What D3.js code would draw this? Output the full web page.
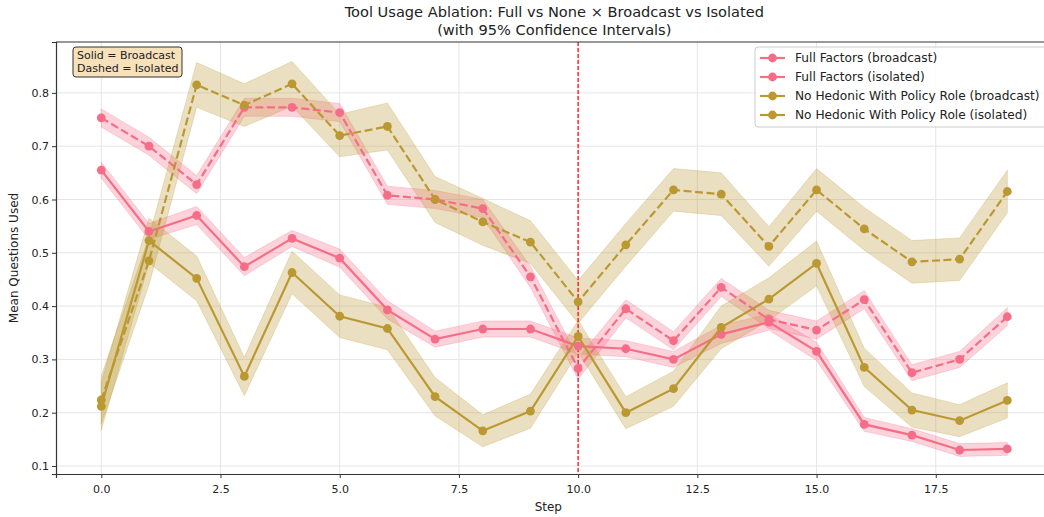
<!DOCTYPE html>
<html>
<head>
<meta charset="utf-8">
<script src="https://cdn.jsdelivr.net/npm/d3@7"></script>
<style>
  body { margin: 0; background: #fff; }
  text { font-family: "DejaVu Sans", sans-serif; fill: #222; }
</style>
</head>
<body>
<svg id="chart" width="1044" height="517"></svg>
<script>
// Data
const steps = d3.range(0, 20);

const fullBroadcast = [0.655, 0.54, 0.57, 0.474, 0.527, 0.49, 0.393, 0.338, 0.357, 0.357,
    0.325, 0.32, 0.30, 0.347, 0.37, 0.315, 0.178, 0.158, 0.13, 0.132];
const fullBroadcastCI = [0.015, 0.015, 0.017, 0.017, 0.015, 0.017, 0.017, 0.015, 0.015, 0.015,
    0.015, 0.015, 0.015, 0.017, 0.015, 0.017, 0.013, 0.012, 0.012, 0.012];

const fullIsolated = [0.753, 0.70, 0.628, 0.773, 0.773, 0.763, 0.608, 0.60, 0.583, 0.455,
    0.283, 0.395, 0.335, 0.435, 0.375, 0.355, 0.412, 0.275, 0.30, 0.38];
const fullIsolatedCI = [0.017, 0.017, 0.017, 0.017, 0.017, 0.017, 0.017, 0.017, 0.017, 0.02,
    0.02, 0.017, 0.017, 0.017, 0.017, 0.017, 0.017, 0.015, 0.015, 0.017];

const noHedBroadcast = [0.212, 0.523, 0.452, 0.268, 0.463, 0.381, 0.358, 0.23, 0.166, 0.203,
    0.343, 0.20, 0.245, 0.36, 0.413, 0.48, 0.285, 0.205, 0.185, 0.223];
const noHedBroadcastCI = [0.045, 0.042, 0.042, 0.036, 0.04, 0.04, 0.04, 0.036, 0.03, 0.032,
    0.03, 0.03, 0.033, 0.04, 0.04, 0.042, 0.036, 0.032, 0.03, 0.033];

const noHedIsolated = [0.224, 0.485, 0.815, 0.777, 0.817, 0.72, 0.737, 0.60, 0.558, 0.52,
    0.408, 0.515, 0.618, 0.61, 0.512, 0.618, 0.545, 0.483, 0.488, 0.615];
const noHedIsolatedCI = [0.045, 0.045, 0.042, 0.04, 0.042, 0.04, 0.044, 0.043, 0.044, 0.04,
    0.04, 0.04, 0.04, 0.04, 0.037, 0.04, 0.04, 0.04, 0.04, 0.04];

const xTicks = [0, 2.5, 5, 7.5, 10, 12.5, 15, 17.5];
const yTicks = [0.1, 0.2, 0.3, 0.4, 0.5, 0.6, 0.7, 0.8];

const pink = "#f56d87";
const gold = "#bb9832";

const series = [
    { name: "Full Factors (broadcast)", values: fullBroadcast, ci: fullBroadcastCI, color: pink, dashed: false },
    { name: "Full Factors (isolated)", values: fullIsolated, ci: fullIsolatedCI, color: pink, dashed: true },
    { name: "No Hedonic With Policy Role (broadcast)", values: noHedBroadcast, ci: noHedBroadcastCI, color: gold, dashed: false },
    { name: "No Hedonic With Policy Role (isolated)", values: noHedIsolated, ci: noHedIsolatedCI, color: gold, dashed: true }
];

// Layout
const plotLeft = 56, plotRight = 1052.6, plotTop = 42, plotBottom = 474;

let svg = d3.select("#chart");

let x = d3.scaleLinear().domain([-0.95, 19.95]).range([plotLeft, plotRight]);
let y = d3.scaleLinear().domain([0.085, 0.8955]).range([plotBottom, plotTop]);

// Grid
let grid = svg.append("g");
grid.selectAll("line.gx")
    .data(xTicks)
    .enter()
    .append("line")
    .attr("x1", d => x(d)).attr("x2", d => x(d))
    .attr("y1", plotTop).attr("y2", plotBottom)
    .style("stroke", "#e6e6e6")
    .style("stroke-width", 1);
grid.selectAll("line.gy")
    .data(yTicks)
    .enter()
    .append("line")
    .attr("x1", plotLeft).attr("x2", plotRight)
    .attr("y1", d => y(d)).attr("y2", d => y(d))
    .style("stroke", "#e6e6e6")
    .style("stroke-width", 1);

// Confidence bands
let area = d3.area()
    .x((d, i) => x(steps[i]))
    .y0(d => y(d[0] - d[1]))
    .y1(d => y(d[0] + d[1]));

series.forEach(s => {
    svg.append("path")
        .datum(s.values.map((v, i) => [v, s.ci[i]]))
        .attr("d", area)
        .attr("fill", s.color)
        .attr("fill-opacity", 0.3)
        .attr("stroke", s.color)
        .attr("stroke-opacity", 0.25)
        .attr("stroke-width", 1);
});

// Vertical marker at step 10
svg.append("line")
    .attr("x1", x(10)).attr("x2", x(10))
    .attr("y1", plotTop).attr("y2", plotBottom)
    .style("stroke", "red")
    .style("stroke-width", 1.5)
    .style("stroke-dasharray", "4,2")
    .style("opacity", 0.8);

// Lines and markers
let line = d3.line()
    .x((d, i) => x(steps[i]))
    .y(d => y(d));

series.forEach(s => {
    svg.append("path")
        .datum(s.values)
        .attr("d", line)
        .attr("fill", "none")
        .attr("stroke", s.color)
        .attr("stroke-width", 2.2)
        .attr("stroke-dasharray", s.dashed ? "8,3.5" : null);

    svg.append("g")
        .selectAll("circle")
        .data(s.values)
        .enter()
        .append("circle")
        .attr("cx", (d, i) => x(steps[i]))
        .attr("cy", d => y(d))
        .attr("r", 4.4)
        .attr("fill", s.color);
});

// Axes
let xAxis = svg.append("g")
    .attr("transform", `translate(0,${plotBottom})`)
    .call(d3.axisBottom(x).tickValues(xTicks).tickFormat(d3.format(".1f")).tickSizeOuter(0).tickSize(4));
let yAxis = svg.append("g")
    .attr("transform", `translate(${plotLeft},0)`)
    .call(d3.axisLeft(y).tickValues(yTicks).tickFormat(d3.format(".1f")).tickSizeOuter(0).tickSize(4));

[xAxis, yAxis].forEach(a => {
    a.select(".domain").attr("stroke", "#333").attr("stroke-width", 1.2);
    a.selectAll(".tick line").attr("stroke", "#333");
    a.selectAll(".tick text").style("font-size", "11px").attr("fill", "#222");
});
xAxis.selectAll(".tick text").attr("dy", "1.1em");

// top spine
svg.append("line")
    .attr("x1", plotLeft).attr("x2", plotRight)
    .attr("y1", plotTop).attr("y2", plotTop)
    .style("stroke", "#333")
    .style("stroke-width", 1.2);

// Labels
svg.append("text")
    .attr("x", (plotLeft + plotRight) / 2)
    .attr("y", 17)
    .attr("text-anchor", "middle")
    .style("font-size", "14.6px")
    .text("Tool Usage Ablation: Full vs None × Broadcast vs Isolated");
svg.append("text")
    .attr("x", (plotLeft + plotRight) / 2)
    .attr("y", 35)
    .attr("text-anchor", "middle")
    .style("font-size", "14.6px")
    .text("(with 95% Confidence Intervals)");

svg.append("text")
    .attr("x", (plotLeft + plotRight) / 2 - 6)
    .attr("y", 511)
    .attr("text-anchor", "middle")
    .style("font-size", "12px")
    .text("Step");

svg.append("text")
    .attr("transform", `translate(18,${(plotTop + plotBottom) / 2}) rotate(-90)`)
    .attr("text-anchor", "middle")
    .style("font-size", "12px")
    .text("Mean Questions Used");

// Annotation box
let note = svg.append("g").attr("transform", "translate(73,47)");
note.append("rect")
    .attr("width", 109).attr("height", 30)
    .attr("rx", 3)
    .attr("fill", "#f5deb3")
    .attr("fill-opacity", 0.9)
    .attr("stroke", "#333")
    .attr("stroke-width", 1);
note.append("text").attr("x", 4).attr("y", 12).style("font-size", "11px").text("Solid = Broadcast");
note.append("text").attr("x", 4).attr("y", 25).style("font-size", "11px").text("Dashed = Isolated");

// Legend
let legend = svg.append("g").attr("transform", "translate(755,47)");
legend.append("rect")
    .attr("width", 300).attr("height", 80)
    .attr("rx", 3)
    .attr("fill", "#fff")
    .attr("fill-opacity", 0.8)
    .attr("stroke", "#ccc");
let entries = legend.selectAll("g")
    .data(series)
    .enter()
    .append("g")
    .attr("transform", (d, i) => `translate(0,${11 + i * 19})`);
entries.append("line")
    .attr("x1", 5).attr("x2", 30)
    .attr("stroke", d => d.color)
    .attr("stroke-width", 2.2);
entries.append("circle")
    .attr("cx", 17.5)
    .attr("r", 4.4)
    .attr("fill", d => d.color);
entries.append("text")
    .attr("x", 40)
    .attr("dy", "0.35em")
    .style("font-size", "12.2px")
    .text(d => d.name);
</script>
</body>
</html>
